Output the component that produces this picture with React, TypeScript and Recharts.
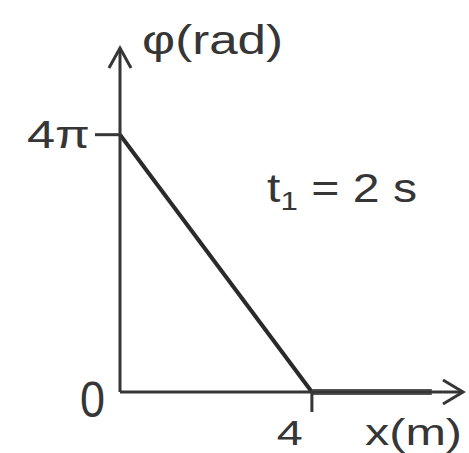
import { LineChart, Line, XAxis, YAxis, ReferenceDot, Customized } from 'recharts';

// phase φ along the rope at t1 = 2 s
const xPositions = [0, 4, 6.5];
const phaseSlope = [4 * Math.PI, 0, null];
const phaseFlat = [null, 0, 0];

const xTicks = [4];
const yTicks = [0, 4 * Math.PI];
const yTickLabels = ['0', '4π'];

const xMax = 7.15;
const yMax = 16.8;

const data = xPositions.map((x, i) => ({ x, slope: phaseSlope[i], flat: phaseFlat[i] }));

const ink = '#363636';
const font = '"Liberation Sans", Arial, sans-serif';

const YTick = (props: any) => {
  const { x, y, payload } = props;
  const idx = yTicks.indexOf(payload.value);
  const label = yTickLabels[idx];
  if (idx === 0) {
    return (
      <text x={x - 15} y={y + 25} textAnchor="end" fontSize={50} fill={ink} fontFamily={font}
        textLength={25} lengthAdjust="spacingAndGlyphs">{label}</text>
    );
  }
  return (
    <g>
      <line x1={x - 25} y1={y} x2={x} y2={y} stroke={ink} strokeWidth={3} />
      <text x={x - 30} y={y + 13} textAnchor="end" fontSize={39} fill={ink} fontFamily={font}
        textLength={63} lengthAdjust="spacingAndGlyphs">{label}</text>
    </g>
  );
};

const XTick = (props: any) => {
  const { x, y, payload } = props;
  return (
    <g>
      <line x1={x} y1={y} x2={x} y2={y + 20} stroke={ink} strokeWidth={3} />
      <text x={x - 35} y={y + 53} fontSize={35} fill={ink} fontFamily={font}
        textLength={26} lengthAdjust="spacingAndGlyphs">{payload.value}</text>
    </g>
  );
};

const ArrowUp = (props: any) => {
  const { cx, cy } = props;
  return <path d={`M${cx - 11},${cy + 20} L${cx},${cy} L${cx + 11},${cy + 20}`} fill="none" stroke={ink} strokeWidth={3} />;
};

const ArrowRight = (props: any) => {
  const { cx, cy } = props;
  return <path d={`M${cx - 20},${cy - 12} L${cx},${cy} L${cx - 20},${cy + 12}`} fill="none" stroke={ink} strokeWidth={3} />;
};

const Labels = () => (
  <g fontFamily={font} fill={ink}>
    <text x={142} y={54} fontSize={40} textLength={141} lengthAdjust="spacingAndGlyphs">φ(rad)</text>
    <text x={365} y={445} fontSize={36} textLength={97} lengthAdjust="spacingAndGlyphs">x(m)</text>
    <text x={267} y={202} fontSize={40} textLength={150} lengthAdjust="spacingAndGlyphs">
      t<tspan fontSize={26} dy={8}>1</tspan><tspan dy={-8}> = 2 s</tspan>
    </text>
  </g>
);

export default function App() {
  return (
    <div style={{ position: 'absolute', left: 0, top: 0, background: '#fff' }}>
      <LineChart width={469} height={453} data={data} margin={{ top: 48, right: 6, left: 0, bottom: 0 }}>
        <XAxis dataKey="x" type="number" domain={[0, xMax]} ticks={xTicks} tick={<XTick />}
          tickSize={0} tickMargin={0} height={61} axisLine={{ stroke: ink, strokeWidth: 3 }} />
        <YAxis type="number" domain={[0, yMax]} ticks={yTicks} tick={<YTick />}
          tickSize={0} tickMargin={0} width={120} axisLine={{ stroke: ink, strokeWidth: 3 }} />
        <Line dataKey="slope" stroke="#2a2a2a" strokeWidth={4} dot={false} isAnimationActive={false} />
        <Line dataKey="flat" stroke="#555" strokeWidth={6} dot={false} isAnimationActive={false} />
        <ReferenceDot x={0} y={yMax} r={0} shape={<ArrowUp />} ifOverflow="visible" />
        <ReferenceDot x={xMax} y={0} r={0} shape={<ArrowRight />} ifOverflow="visible" />
        <Customized component={Labels} />
      </LineChart>
    </div>
  );
}
